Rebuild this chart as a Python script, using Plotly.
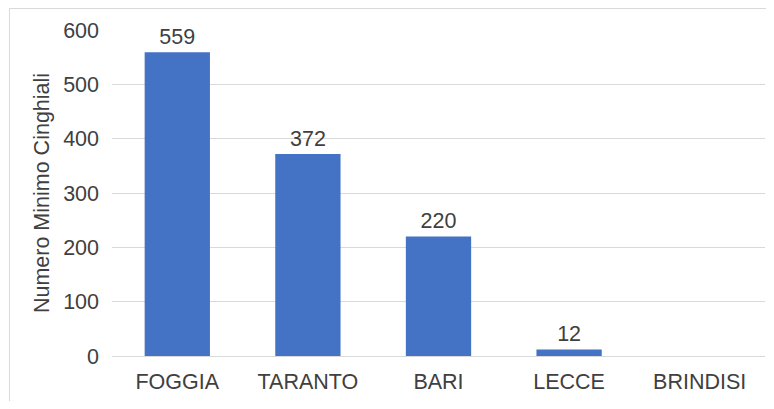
import plotly.graph_objects as go

categories = ["FOGGIA", "TARANTO", "BARI", "LECCE", "BRINDISI"]
values = [559, 372, 220, 12, 0]
value_labels = ["559", "372", "220", "12", ""]
y_title = "Numero Minimo Cinghiali"

FONT = "Liberation Sans, Arial, sans-serif"
TXT = "#404040"
FS = 21.5

fig = go.Figure(
    go.Bar(
        x=categories,
        y=values,
        text=value_labels,
        textposition="outside",
        textfont=dict(family=FONT, size=FS, color=TXT),
        marker=dict(color="#4472C4", line=dict(width=0)),
        cliponaxis=False,
        hoverinfo="x+y",
    )
)

# page body has an 8px margin; figure placed at (8, 8)
W, H = 758, 393
L, R, T, B = 104, 1, 22, 45
pw, ph = W - L - R, H - T - B

bx = (1.5 - L) / pw
by = 1 + (T - 0.5) / ph
fig.update_layout(
    width=W,
    height=H,
    margin=dict(l=L, r=R, t=T, b=B),
    paper_bgcolor="white",
    plot_bgcolor="white",
    bargap=0.5,
    showlegend=False,
    font=dict(family=FONT, size=FS, color=TXT),
    shapes=[
        dict(type="line", xref="paper", yref="paper", x0=bx, x1=1 + (R + 20) / pw,
             y0=by, y1=by, line=dict(color="#d9d9d9", width=1), layer="below"),
        dict(type="line", xref="paper", yref="paper", x0=bx, x1=bx,
             y0=by, y1=-(B + 20) / ph, line=dict(color="#d9d9d9", width=1), layer="below"),
    ],
)

fig.update_xaxes(
    showline=False,
    showgrid=False,
    ticks="",
    tickfont=dict(family=FONT, size=FS, color=TXT),
    ticklabelstandoff=10,
)
fig.update_yaxes(
    range=[0, 600],
    dtick=100,
    showgrid=True,
    gridcolor="#d9d9d9",
    gridwidth=1,
    zeroline=True,
    zerolinecolor="#d9d9d9",
    zerolinewidth=1,
    showline=False,
    ticks="",
    tickfont=dict(family=FONT, size=FS, color=TXT),
    ticklabelstandoff=12,
    title=dict(text=y_title, font=dict(family=FONT, size=FS, color=TXT), standoff=7),
)

fig.write_html("out.html")
